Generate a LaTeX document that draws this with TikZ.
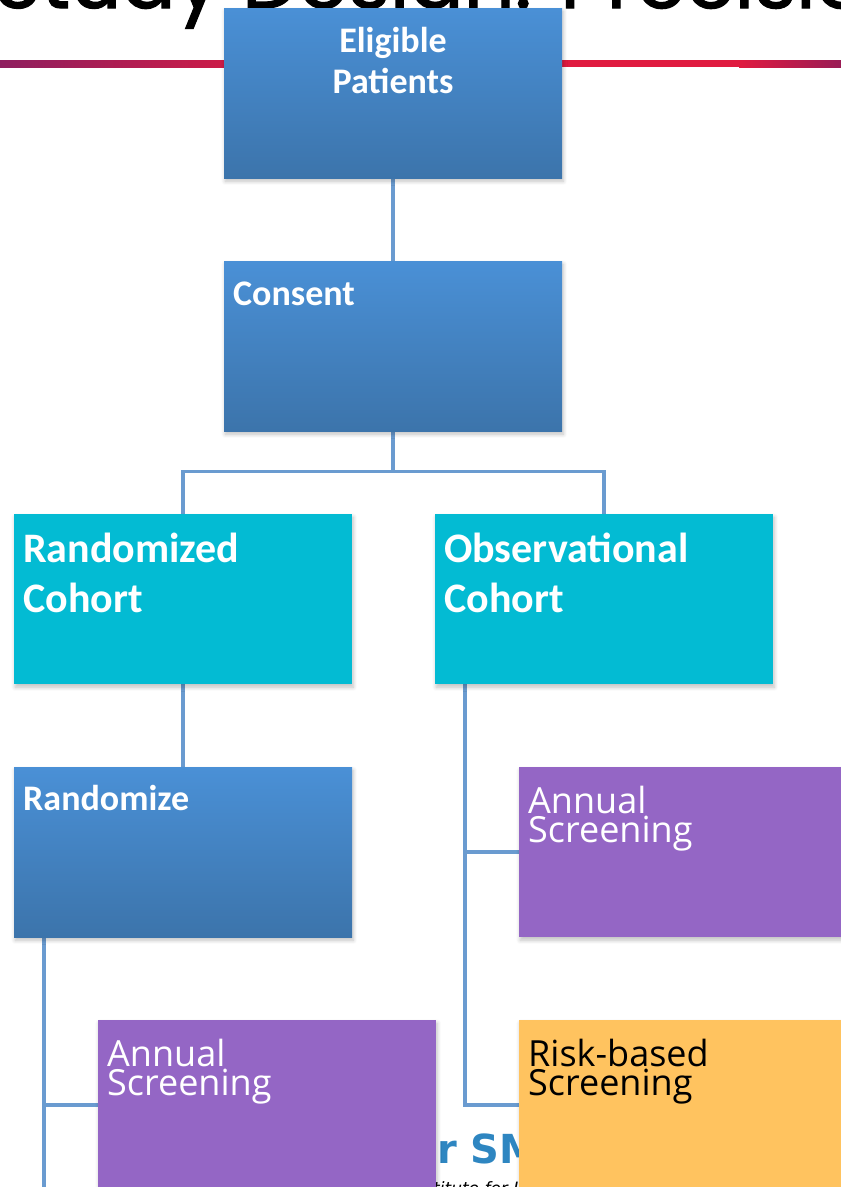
\documentclass[tikz,border=0pt]{standalone}
\usepackage{fontspec}
\setmainfont{Carlito}
\newfontfamily\osans{Open Sans}
\newfontfamily\titlefont[FakeBold=1.5]{Poppins}
\newfontfamily\logofont{DejaVu Sans}
\usetikzlibrary{shadows.blur,calc}
\pgfdeclarelayer{bg}
\pgfsetlayers{bg,main}
\definecolor{btop}{HTML}{4A90D6}
\definecolor{bbot}{HTML}{3C74AB}
\definecolor{cyanbox}{HTML}{03BBD3}
\definecolor{purplebox}{HTML}{9466C5}
\definecolor{yellowbox}{HTML}{FFC35F}
\definecolor{conncol}{HTML}{6A9BD0}
\definecolor{linered}{HTML}{E01B40}
\definecolor{linepurple}{HTML}{8E1F5F}
\definecolor{logoblue}{HTML}{2E86C1}
\tikzset{
  box/.style={rectangle, minimum width=338pt, minimum height=170pt, inner sep=0pt, anchor=north west,
    blur shadow={shadow xshift=1pt, shadow yshift=-3pt, shadow blur steps=6, shadow opacity=25, shadow blur radius=4pt}},
  bluebox/.style={box, top color=btop, bottom color=bbot},
  cyanbx/.style={box, fill=cyanbox},
  purplebx/.style={box, fill=purplebox},
  yellowbx/.style={box, fill=yellowbox},
  conn/.style={draw=conncol, line width=3.5pt},
  btxt/.style={text=white, font=\fontsize{36}{41}\selectfont\bfseries, inner sep=0pt, anchor=base west},
  bigtxt/.style={text=white, font=\fontsize{42}{50}\selectfont\bfseries, inner sep=0pt, anchor=base west},
  lighttxt/.style={font=\osans\fontsize{36}{29}\selectfont, inner sep=0pt, anchor=base west},
}
\begin{document}
\begin{tikzpicture}[x=1pt,y=-1pt]
\useasboundingbox (0,0) rectangle (841,1187);
\clip (0,0) rectangle (841,1187);

% boxes
\node[bluebox] (elig) at (224,8) {};
\node[bluebox] (cons) at (224,261) {};
\node[cyanbx] (rand) at (14,514) {};
\node[cyanbx] (obs) at (435,514) {};
\node[bluebox] (rzz) at (14,767) {};
\node[purplebx] (ann1) at (519,767) {};
\node[purplebx] (ann2) at (98,1020) {};
\node[yellowbx] (risk) at (519,1020) {};

% texts
\node[btxt, anchor=base] (t1a) at (393,52) {Eligible};
\node[btxt, anchor=base] (t1b) at (393,93) {Patients};
\node[btxt] (t2) at (233,305) {Consent};
\node[bigtxt] (t3a) at (23,562) {Randomized};
\node[bigtxt] (t3b) at (23,612) {Cohort};
\node[bigtxt] (t4a) at (444,562) {Observational};
\node[bigtxt] (t4b) at (444,612) {Cohort};
\node[btxt] (t5) at (23,810) {Randomize};
\node[lighttxt, text=white] (t6a) at (528,813) {Annual};
\node[lighttxt, text=white] (t6b) at (528,842) {Screening};
\node[lighttxt, text=white] (t7a) at (107,1066) {Annual};
\node[lighttxt, text=white] (t7b) at (107,1095) {Screening};
\node[lighttxt, text=black] (t8a) at (528,1066) {Risk-based};
\node[lighttxt, text=black] (t8b) at (528,1095) {Screening};

\coordinate (lbot) at (44,1190);

\begin{pgfonlayer}{bg}
  % title and rule
  \node[font=\titlefont\fontsize{80}{90}\selectfont, inner sep=0pt, anchor=base west] (title) at (-6,8) {Study Design: Precision};
  \shade[left color=linepurple, right color=linered] (0,60) rectangle (300,67);
  \fill[linered] (300,60) rectangle (740,67);
  \shade[left color=linered, right color=linepurple!90!red] (739,60) rectangle (841,67);
  % logo fragments
  \node[font=\logofont\bfseries\fontsize{40}{44}\selectfont, text=logoblue, inner sep=0pt, anchor=base west] (logo) at (437,1163) {r SM};
  \node[font=\logofont\itshape\fontsize{17}{20}\selectfont, text=black, inner sep=0pt, anchor=base west] (logo2) at (433,1194) {titute for I};
  % connectors
  \draw[conn] (elig.south) -- (cons.north);
  \draw[conn] (cons.south) -- ++(0,40) -| (rand.north);
  \draw[conn] (cons.south) -- ++(0,40) -| (obs.north);
  \draw[conn] (rand.south) -- (rzz.north);
  \draw[conn] ([xshift=30pt]rzz.south west) -- (lbot);
  \draw[conn] (lbot |- ann2.west) -- (ann2.west);
  \draw[conn] ([xshift=30pt]obs.south west) |- (risk.west);
  \draw[conn] ([xshift=30pt]obs.south west) |- (ann1.west);
\end{pgfonlayer}
\end{tikzpicture}
\end{document}
